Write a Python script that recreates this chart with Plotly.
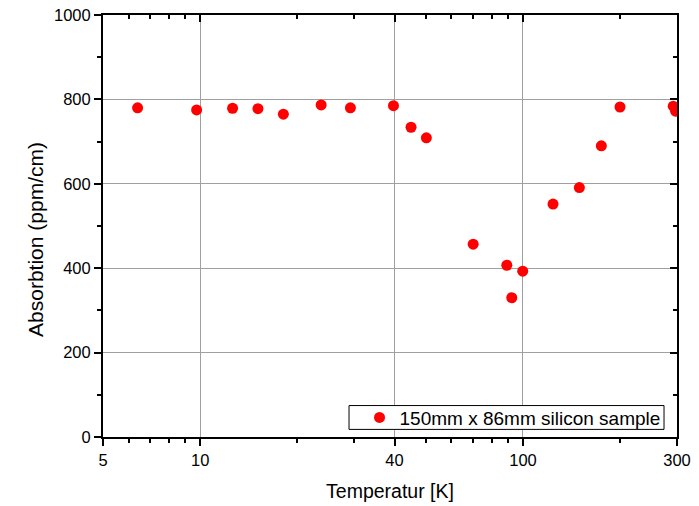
import math
import plotly.graph_objects as go

temperature_K = [6.4, 9.75, 12.6, 15.1, 18.1, 23.7, 29.2, 39.7, 45.0, 50.2,
                 70.1, 89.1, 92.3, 99.8, 123.9, 149.5, 174.9, 199.8, 292, 297]
absorption_ppm_cm = [780, 775, 779, 778, 765, 787, 780, 785, 734, 709,
                     457, 407, 330, 393, 552, 591, 690, 782, 784, 772]
series_name = "150mm x 86mm silicon sample"
x_title = "Temperatur [K]"
y_title = "Absorbtion (ppm/cm)"

x_ticks = [5, 10, 40, 100, 300]
x_minor = [6, 7, 8, 9, 20, 30, 50, 60, 70, 80, 90, 200]
y_ticks = [0, 200, 400, 600, 800, 1000]
x_range = [math.log10(5), math.log10(300)]
y_range = [0, 1000]

FONT = "Liberation Sans, Arial, sans-serif"
GRID = "#a0a0a0"

fig = go.Figure()
fig.add_trace(go.Scatter(
    x=temperature_K, y=absorption_ppm_cm, mode="markers",
    name=series_name,
    marker=dict(color="#ff0000", size=11, line=dict(width=0)),
))

fig.update_layout(
    width=699, height=506,
    margin=dict(l=103, r=22, t=15, b=69, autoexpand=False),
    paper_bgcolor="white", plot_bgcolor="white",
    font=dict(family=FONT, color="black", size=16),
    showlegend=True,
    legend=dict(
        x=0.980, y=0.046, xanchor="right", yanchor="middle",
        borderwidth=0, bgcolor="rgba(0,0,0,0)",
        font=dict(family=FONT, size=19, color="black"),
        itemwidth=30, tracegroupgap=0,
    ),
    shapes=[dict(
        type="rect", xref="paper", yref="paper",
        x0=0.4286, x1=0.9774, y0=0.018, y1=0.0745,
        line=dict(color="black", width=1), fillcolor="white", layer="above",
    )],
    xaxis=dict(
        type="log", range=x_range, automargin=False,
        tickmode="array", tickvals=x_ticks, ticktext=[str(v) for v in x_ticks],
        ticks="outside", ticklen=7, tickwidth=1.5, tickcolor="black",
        showline=True, linecolor="black", linewidth=2,
        showgrid=True, gridcolor=GRID, gridwidth=1,
        zeroline=False,
        tickfont=dict(size=16.5),
        title=dict(text=x_title, font=dict(size=19.5), standoff=17),
        minor=dict(tickmode="array", tickvals=x_minor, ticks="outside",
                   ticklen=4, tickwidth=1.5, tickcolor="black", showgrid=False),
    ),
    yaxis=dict(
        range=y_range, automargin=False,
        tickmode="array", tickvals=y_ticks,
        ticks="outside", ticklen=7, tickwidth=1.5, tickcolor="black",
        showline=True, linecolor="black", linewidth=2,
        showgrid=True, gridcolor=GRID, gridwidth=1,
        zeroline=False,
        tickfont=dict(size=16.5),
        minor=dict(dtick=100, ticks="outside", ticklen=4, tickwidth=1.5,
                   tickcolor="black", showgrid=False),
    ),
    xaxis2=dict(
        type="log", range=x_range, overlaying="x", side="top", automargin=False,
        tickmode="array", tickvals=x_ticks, showticklabels=False,
        ticks="inside", ticklen=7, tickwidth=1.5, tickcolor="black",
        showline=True, linecolor="black", linewidth=2,
        showgrid=False, zeroline=False,
        minor=dict(tickmode="array", tickvals=x_minor, ticks="inside",
                   ticklen=4, tickwidth=1.5, tickcolor="black", showgrid=False),
    ),
    yaxis2=dict(
        range=y_range, overlaying="y", side="right", automargin=False,
        tickmode="array", tickvals=y_ticks, showticklabels=False,
        ticks="inside", ticklen=7, tickwidth=1.5, tickcolor="black",
        showline=True, linecolor="black", linewidth=2,
        showgrid=False, zeroline=False,
        minor=dict(dtick=100, ticks="inside", ticklen=4, tickwidth=1.5,
                   tickcolor="black", showgrid=False),
    ),
    annotations=[dict(
        text=y_title, textangle=-90, showarrow=False,
        xref="paper", yref="paper", x=0, y=0.467,
        xanchor="center", yanchor="middle", xshift=-67,
        font=dict(family=FONT, size=21, color="black"),
    )],
)

fig.add_trace(go.Scatter(x=[], y=[], xaxis="x2", yaxis="y2",
                         showlegend=False, hoverinfo="skip"))

fig.write_html("out.html", config={"displayModeBar": False},
               post_script="document.body.style.margin='0';document.body.style.overflow='hidden';")
